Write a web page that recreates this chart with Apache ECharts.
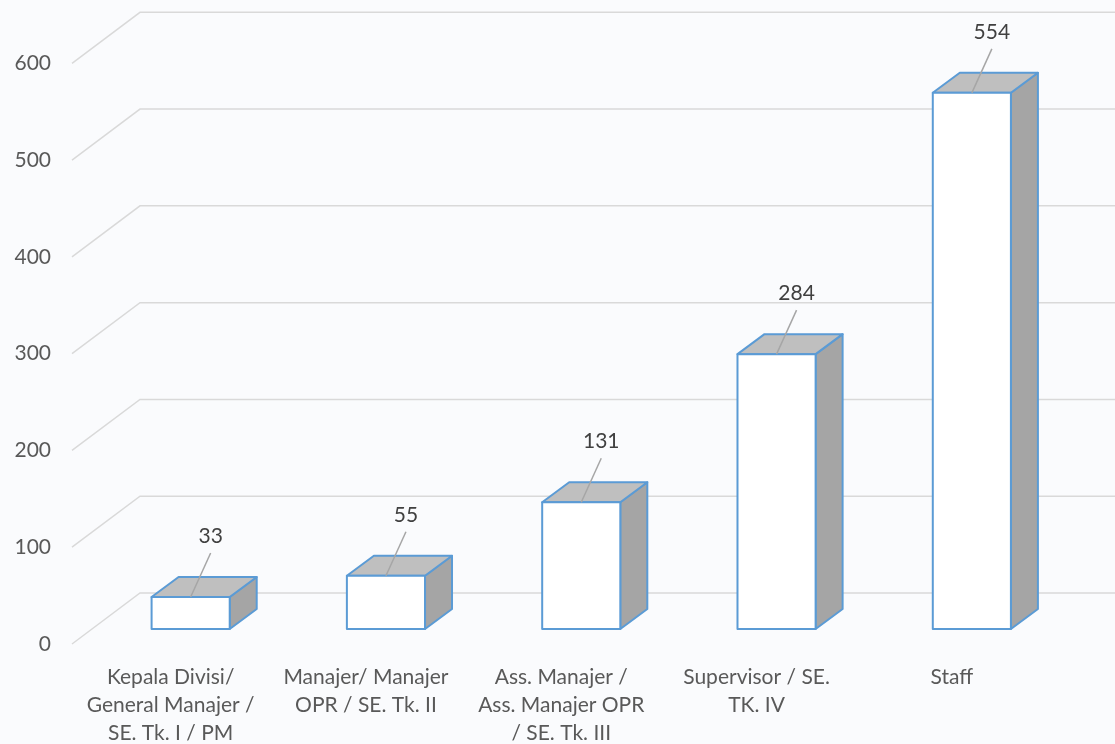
<!DOCTYPE html>
<html>
<head>
<meta charset="utf-8">
<script src="https://cdn.jsdelivr.net/npm/echarts@6/dist/echarts.min.js"></script>
<style>
html,body{margin:0;padding:0;background:#FAFBFD;}
#c{width:1115px;height:744px;}
</style>
</head>
<body>
<div id="c"></div>
<script>
const categories = [
  'Kepala Divisi/\nGeneral Manajer /\nSE. Tk. I / PM',
  'Manajer/ Manajer\nOPR / SE. Tk. II',
  'Ass. Manajer /\nAss. Manajer OPR\n/ SE. Tk. III',
  'Supervisor / SE.\nTK. IV',
  'Staff'
];
const values = [33, 55, 131, 284, 554];
const yTicks = [0, 100, 200, 300, 400, 500, 600];

const FONT = 'Lato, "Open Sans", sans-serif';
const WALL_DX = 68, WALL_DY = -51;     // depth of floor / wall
const BAR_OX = 20, BAR_OY = -15;       // bar front plane offset
const BAR_DX = 27, BAR_DY = -20;       // bar depth
const BLUE = '#5B9BD5';

const chart = echarts.init(document.getElementById('c'), null, {renderer: 'canvas'});

const option = {
  backgroundColor: '#FAFBFD',
  animation: false,
  grid: {left: 73, right: 65.5, top: 63.3, bottom: 100, containLabel: false, outerBoundsMode: 'none'},
  xAxis: {
    type: 'category',
    data: categories,
    axisLine: {show: false},
    axisTick: {show: false},
    axisLabel: {
      interval: 0,
      margin: 19,
      fontFamily: FONT,
      fontSize: 21,
      lineHeight: 28,
      color: '#595959',
      verticalAlign: 'top'
    }
  },
  yAxis: {
    type: 'value',
    min: 0,
    max: 600,
    interval: 100,
    axisLine: {show: false},
    axisTick: {show: false},
    splitLine: {show: false},
    axisLabel: {
      margin: 22,
      fontFamily: FONT,
      fontSize: 21,
      color: '#595959'
    }
  },
  series: [
    {
      type: 'custom',
      silent: true,
      data: yTicks.map(v => [0, v]),
      z: 1,
      renderItem: function (params, api) {
        const cs = params.coordSys;
        const p = api.coord([0, api.value(1)]);
        const y = p[1];
        const x0 = cs.x - 1;
        return {
          type: 'polyline',
          shape: {points: [[x0, y], [x0 + WALL_DX, y + WALL_DY], [cs.x + cs.width + WALL_DX + 10, y + WALL_DY]]},
          style: {stroke: '#D9D9D9', lineWidth: 1.5, fill: null}
        };
      }
    },
    {
      type: 'custom',
      data: values.map((v, i) => [i, v]),
      z: 5,
      renderItem: function (params, api) {
        const i = api.value(0), v = api.value(1);
        const base = api.coord([i, 0]);
        const topP = api.coord([i, v]);
        const bw = api.size([1, 0])[0] * 0.4;
        const cx = base[0] + BAR_OX;
        const x0 = cx - bw / 2, x1 = cx + bw / 2;
        const yb = base[1] + BAR_OY, yt = topP[1] + BAR_OY;
        const st = {stroke: BLUE, lineWidth: 2, lineJoin: 'round'};
        return {
          type: 'group',
          children: [
            {type: 'polygon', shape: {points: [[x1, yt], [x1, yb], [x1 + BAR_DX, yb + BAR_DY], [x1 + BAR_DX, yt + BAR_DY]]},
              style: Object.assign({fill: '#A5A5A5'}, st)},
            {type: 'polygon', shape: {points: [[x0, yt], [x1, yt], [x1 + BAR_DX, yt + BAR_DY], [x0 + BAR_DX, yt + BAR_DY]]},
              style: Object.assign({fill: '#BFBFBF'}, st)},
            {type: 'rect', shape: {x: x0, y: yt, width: bw, height: yb - yt},
              style: Object.assign({fill: '#FFFFFF'}, st)},
            {type: 'line', shape: {x1: cx, y1: yt, x2: cx + 20, y2: yt - 44},
              style: {stroke: '#A6A6A6', lineWidth: 1.5}},
            {type: 'text', x: cx + 20, y: yt - 61,
              style: {text: String(v), fill: '#404040', font: '21px ' + FONT, align: 'center', verticalAlign: 'middle'}}
          ]
        };
      }
    }
  ]
};
chart.setOption(option);
</script>
</body>
</html>
